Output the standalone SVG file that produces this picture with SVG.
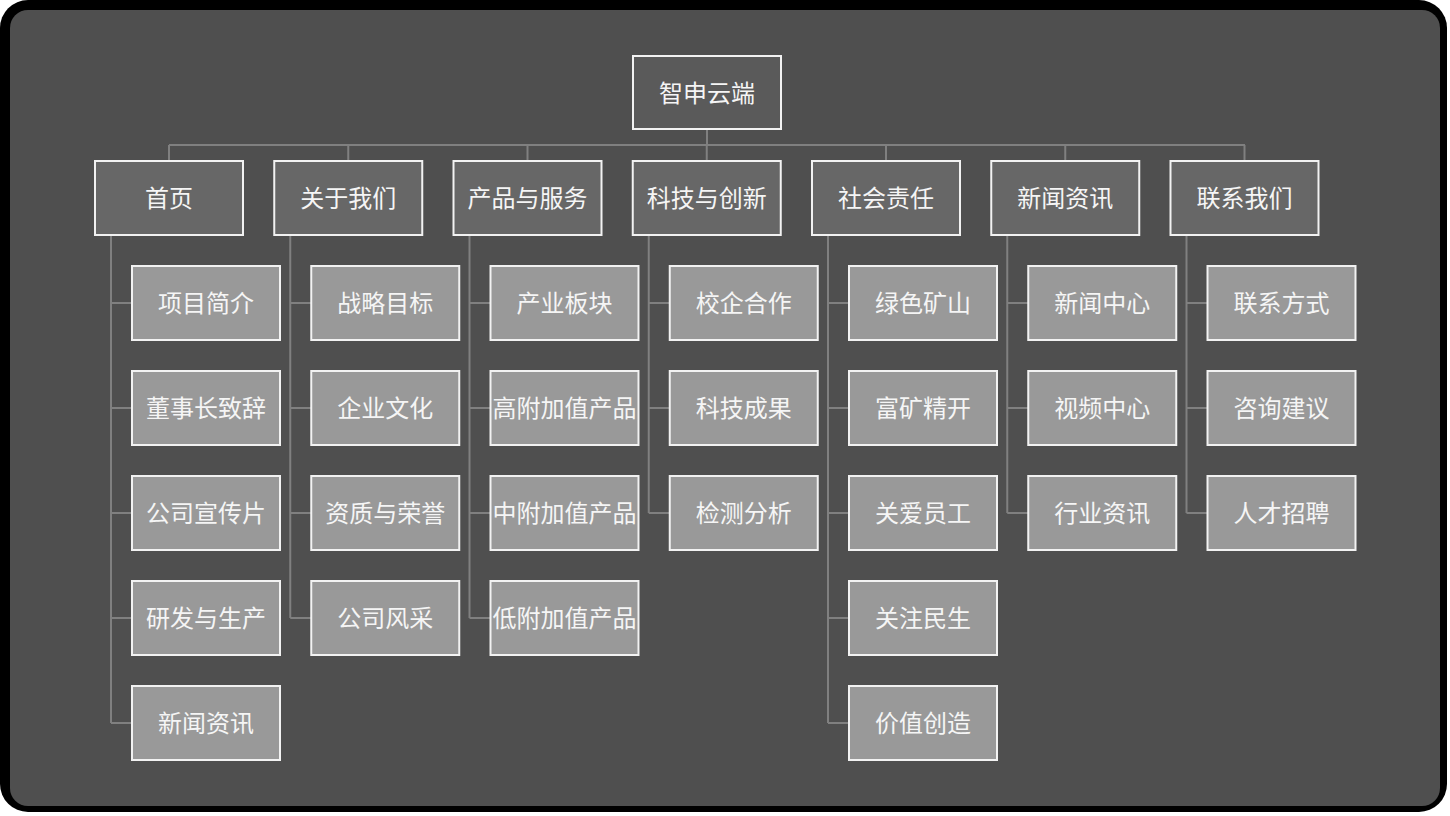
<svg xmlns="http://www.w3.org/2000/svg" width="1450" height="816" viewBox="0 0 1450 816">
<style>
.n rect{stroke:#f2f2f2;stroke-width:2}
.r rect{fill:#5a5a5a}
.l1 rect{fill:#676767}
.l2 rect{fill:#999999}
text{font-family:"Noto Sans CJK SC","Noto Sans",sans-serif;font-size:24px;fill:#f5f5f5;text-anchor:middle;dominant-baseline:central}
.c{fill:none;stroke:#808080;stroke-width:2}
</style>
<rect x="0" y="0" width="1447" height="812" rx="28" fill="#000"/>
<rect x="10" y="10" width="1430" height="796" rx="18" fill="#4f4f4f"/>
<g id="connectors" class="c">
<path d="M707 130V145M169 145H1245M169 145V161M348.25 145V161M527.5 145V161M706.75 145V161M886 145V161M1065.25 145V161M1244.5 145V161"/>
<path d="M111 235V723M111 303H132M111 408H132M111 513H132M111 618H132M111 723H132"/>
<path d="M290.25 235V618M290.25 303H311.25M290.25 408H311.25M290.25 513H311.25M290.25 618H311.25"/>
<path d="M469.5 235V618M469.5 303H490.5M469.5 408H490.5M469.5 513H490.5M469.5 618H490.5"/>
<path d="M648.75 235V513M648.75 303H669.75M648.75 408H669.75M648.75 513H669.75"/>
<path d="M828 235V723M828 303H849M828 408H849M828 513H849M828 618H849M828 723H849"/>
<path d="M1007.25 235V513M1007.25 303H1028.25M1007.25 408H1028.25M1007.25 513H1028.25"/>
<path d="M1186.5 235V513M1186.5 303H1207.5M1186.5 408H1207.5M1186.5 513H1207.5"/>
</g>
<g id="root" class="n r"><rect x="633" y="56" width="148" height="73"/><text x="707" y="91">智申云端</text></g>
<g id="l1-1" class="n l1"><rect x="95" y="161" width="148" height="74"/><text x="169" y="196.5">首页</text></g>
<g id="l1-2" class="n l1"><rect x="274.25" y="161" width="148" height="74"/><text x="348.25" y="196.5">关于我们</text></g>
<g id="l1-3" class="n l1"><rect x="453.5" y="161" width="148" height="74"/><text x="527.5" y="196.5">产品与服务</text></g>
<g id="l1-4" class="n l1"><rect x="632.75" y="161" width="148" height="74"/><text x="706.75" y="196.5">科技与创新</text></g>
<g id="l1-5" class="n l1"><rect x="812" y="161" width="148" height="74"/><text x="886" y="196.5">社会责任</text></g>
<g id="l1-6" class="n l1"><rect x="991.25" y="161" width="148" height="74"/><text x="1065.25" y="196.5">新闻资讯</text></g>
<g id="l1-7" class="n l1"><rect x="1170.5" y="161" width="148" height="74"/><text x="1244.5" y="196.5">联系我们</text></g>

<g id="c1-1" class="n l2"><rect x="132" y="266" width="148" height="74"/><text x="206" y="301.5">项目简介</text></g>
<g id="c1-2" class="n l2"><rect x="132" y="371" width="148" height="74"/><text x="206" y="406.5">董事长致辞</text></g>
<g id="c1-3" class="n l2"><rect x="132" y="476" width="148" height="74"/><text x="206" y="511.5">公司宣传片</text></g>
<g id="c1-4" class="n l2"><rect x="132" y="581" width="148" height="74"/><text x="206" y="616.5">研发与生产</text></g>
<g id="c1-5" class="n l2"><rect x="132" y="686" width="148" height="74"/><text x="206" y="721.5">新闻资讯</text></g>

<g id="c2-1" class="n l2"><rect x="311.25" y="266" width="148" height="74"/><text x="385.25" y="301.5">战略目标</text></g>
<g id="c2-2" class="n l2"><rect x="311.25" y="371" width="148" height="74"/><text x="385.25" y="406.5">企业文化</text></g>
<g id="c2-3" class="n l2"><rect x="311.25" y="476" width="148" height="74"/><text x="385.25" y="511.5">资质与荣誉</text></g>
<g id="c2-4" class="n l2"><rect x="311.25" y="581" width="148" height="74"/><text x="385.25" y="616.5">公司风采</text></g>

<g id="c3-1" class="n l2"><rect x="490.5" y="266" width="148" height="74"/><text x="564.5" y="301.5">产业板块</text></g>
<g id="c3-2" class="n l2"><rect x="490.5" y="371" width="148" height="74"/><text x="564.5" y="406.5">高附加值产品</text></g>
<g id="c3-3" class="n l2"><rect x="490.5" y="476" width="148" height="74"/><text x="564.5" y="511.5">中附加值产品</text></g>
<g id="c3-4" class="n l2"><rect x="490.5" y="581" width="148" height="74"/><text x="564.5" y="616.5">低附加值产品</text></g>

<g id="c4-1" class="n l2"><rect x="669.75" y="266" width="148" height="74"/><text x="743.75" y="301.5">校企合作</text></g>
<g id="c4-2" class="n l2"><rect x="669.75" y="371" width="148" height="74"/><text x="743.75" y="406.5">科技成果</text></g>
<g id="c4-3" class="n l2"><rect x="669.75" y="476" width="148" height="74"/><text x="743.75" y="511.5">检测分析</text></g>

<g id="c5-1" class="n l2"><rect x="849" y="266" width="148" height="74"/><text x="923" y="301.5">绿色矿山</text></g>
<g id="c5-2" class="n l2"><rect x="849" y="371" width="148" height="74"/><text x="923" y="406.5">富矿精开</text></g>
<g id="c5-3" class="n l2"><rect x="849" y="476" width="148" height="74"/><text x="923" y="511.5">关爱员工</text></g>
<g id="c5-4" class="n l2"><rect x="849" y="581" width="148" height="74"/><text x="923" y="616.5">关注民生</text></g>
<g id="c5-5" class="n l2"><rect x="849" y="686" width="148" height="74"/><text x="923" y="721.5">价值创造</text></g>

<g id="c6-1" class="n l2"><rect x="1028.25" y="266" width="148" height="74"/><text x="1102.25" y="301.5">新闻中心</text></g>
<g id="c6-2" class="n l2"><rect x="1028.25" y="371" width="148" height="74"/><text x="1102.25" y="406.5">视频中心</text></g>
<g id="c6-3" class="n l2"><rect x="1028.25" y="476" width="148" height="74"/><text x="1102.25" y="511.5">行业资讯</text></g>

<g id="c7-1" class="n l2"><rect x="1207.5" y="266" width="148" height="74"/><text x="1281.5" y="301.5">联系方式</text></g>
<g id="c7-2" class="n l2"><rect x="1207.5" y="371" width="148" height="74"/><text x="1281.5" y="406.5">咨询建议</text></g>
<g id="c7-3" class="n l2"><rect x="1207.5" y="476" width="148" height="74"/><text x="1281.5" y="511.5">人才招聘</text></g>
</svg>
